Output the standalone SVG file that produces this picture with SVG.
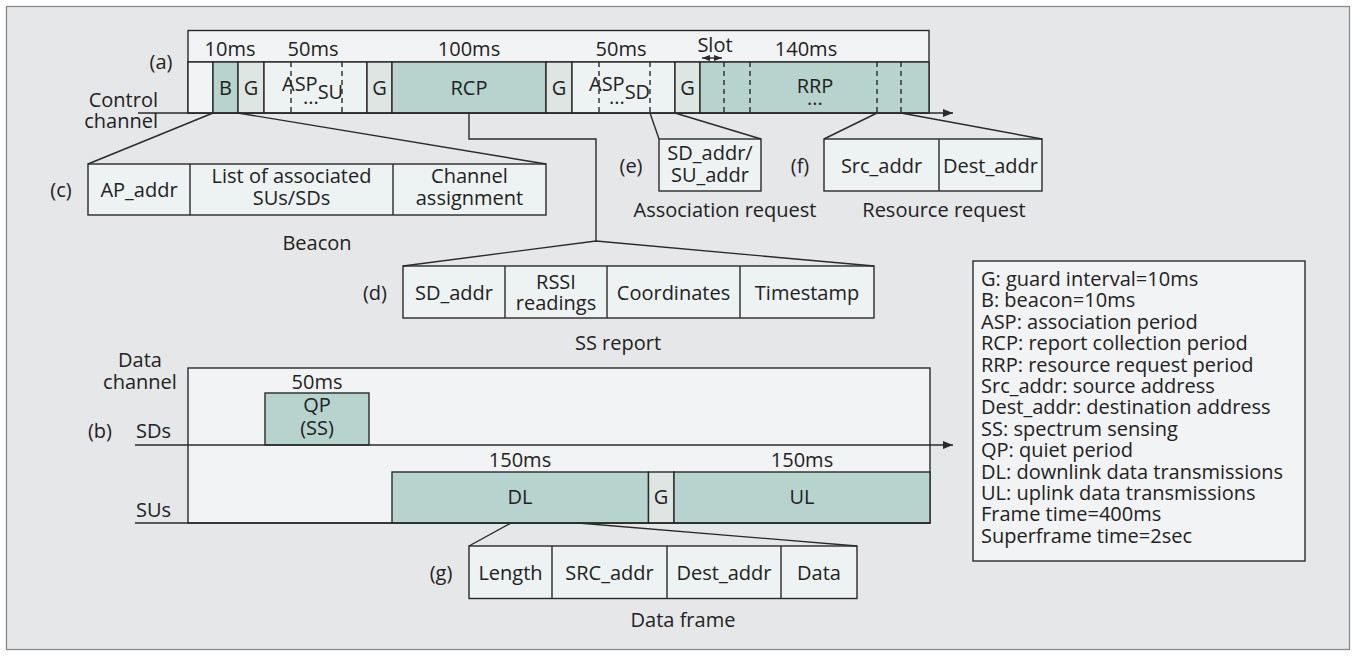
<svg xmlns="http://www.w3.org/2000/svg" width="1356" height="656" viewBox="0 0 1356 656">
<defs>
<style>
text{font-family:"Open Sans","Noto Sans","Liberation Sans",sans-serif;font-size:20px;fill:#222;}
.c{text-anchor:middle;}
.ln{stroke:#2a2a2a;stroke-width:1.4;fill:none;}
.box{stroke:#2a2a2a;stroke-width:1.4;}
.wh{fill:#f2f3f4;}
.tl{fill:#b6d3cd;}
.gd{fill:#dde6e3;}
.fd{fill:#edf3f3;}
.dash{stroke:#2a2a2a;stroke-width:1.4;stroke-dasharray:5 4;fill:none;}
</style>
<marker id="ah" viewBox="0 0 10 8" refX="10" refY="4" markerWidth="10" markerHeight="8" markerUnits="userSpaceOnUse" orient="auto-start-reverse">
<path d="M0,0 L10,4 L0,8 Z" fill="#2a2a2a"/>
</marker>
<marker id="sa" viewBox="0 0 8 6" refX="8" refY="3" markerWidth="8" markerHeight="6" markerUnits="userSpaceOnUse" orient="auto-start-reverse">
<path d="M0,0 L8,3 L0,6 Z" fill="#2a2a2a"/>
</marker>
</defs>
<rect x="6.5" y="6.5" width="1343" height="643" fill="#e6e7e8" stroke="#8a8a8a" stroke-width="1.3"/>

<g id="control-channel">
<text x="161" y="69" class="c">(a)</text>
<text x="158" y="107" text-anchor="end">Control</text>
<text x="158" y="128" text-anchor="end">channel</text>
<rect x="188" y="30.5" width="741" height="82.5" class="box wh"/>
<text x="230" y="56" class="c">10ms</text>
<text x="313" y="56" class="c">50ms</text>
<text x="469" y="56" class="c">100ms</text>
<text x="621" y="56" class="c">50ms</text>
<text x="715" y="52" class="c">Slot</text>
<text x="806" y="56" class="c">140ms</text>
<line x1="702" y1="58" x2="722" y2="58" class="ln" marker-start="url(#sa)" marker-end="url(#sa)"/>
<line x1="188" y1="62" x2="929" y2="62" class="ln"/>
</g>

<g id="cell-first"><rect x="188" y="62" width="25" height="51" class="box wh"/></g>
<g id="cell-B"><rect x="213" y="62" width="25" height="51" class="box tl"/><text x="225.5" y="95" class="c">B</text></g>
<g id="cell-G1"><rect x="238" y="62" width="26" height="51" class="box gd"/><text x="251" y="95" class="c">G</text></g>
<g id="cell-ASPSU"><rect x="264" y="62" width="103" height="51" class="box fd"/>
<line x1="291" y1="62" x2="291" y2="113" class="dash"/><line x1="342" y1="62" x2="342" y2="113" class="dash"/>
<text x="282" y="91">ASP<tspan dy="8">SU</tspan></text>
<text x="311" y="104" class="c">...</text></g>
<g id="cell-G2"><rect x="367" y="62" width="25" height="51" class="box gd"/><text x="379.5" y="95" class="c">G</text></g>
<g id="cell-RCP"><rect x="392" y="62" width="154" height="51" class="box tl"/><text x="469" y="95" class="c">RCP</text></g>
<g id="cell-G3"><rect x="546" y="62" width="26" height="51" class="box gd"/><text x="559" y="95" class="c">G</text></g>
<g id="cell-ASPSD"><rect x="572" y="62" width="103" height="51" class="box fd"/>
<line x1="599" y1="62" x2="599" y2="113" class="dash"/><line x1="650" y1="62" x2="650" y2="113" class="dash"/>
<text x="589" y="91">ASP<tspan dy="8">SD</tspan></text>
<text x="617" y="104" class="c">...</text></g>
<g id="cell-G4"><rect x="675" y="62" width="25" height="51" class="box gd"/><text x="687.5" y="95" class="c">G</text></g>
<g id="cell-RRP"><rect x="700" y="62" width="229" height="51" class="box tl"/>
<line x1="724" y1="62" x2="724" y2="113" class="dash"/><line x1="750" y1="62" x2="750" y2="113" class="dash"/>
<line x1="877" y1="62" x2="877" y2="113" class="dash"/><line x1="901" y1="62" x2="901" y2="113" class="dash"/>
<text x="815" y="93" class="c">RRP</text>
<text x="815" y="105" class="c">...</text></g>

<g id="beacon">
<text x="61" y="197" class="c">(c)</text>
<rect x="88" y="164" width="458" height="51" class="box fd"/>
<line x1="190" y1="164" x2="190" y2="215" class="ln"/><line x1="393" y1="164" x2="393" y2="215" class="ln"/>
<text x="139" y="197" class="c">AP_addr</text>
<text x="291.5" y="183" class="c">List of associated</text>
<text x="291.5" y="205" class="c">SUs/SDs</text>
<text x="469.5" y="183" class="c">Channel</text>
<text x="469.5" y="205" class="c">assignment</text>
<text x="317" y="250" class="c">Beacon</text>
</g>

<g id="association-request">
<text x="631" y="173" class="c">(e)</text>
<rect x="659" y="139" width="102" height="52" class="box fd"/>
<text x="710" y="160" class="c">SD_addr/</text>
<text x="710" y="182" class="c">SU_addr</text>
<text x="725" y="217" class="c">Association request</text>
</g>

<g id="resource-request">
<text x="800" y="173" class="c">(f)</text>
<rect x="824" y="139" width="218" height="52" class="box fd"/>
<line x1="939" y1="139" x2="939" y2="191" class="ln"/>
<text x="881.5" y="173" class="c">Src_addr</text>
<text x="990.5" y="173" class="c">Dest_addr</text>
<text x="944" y="217" class="c">Resource request</text>
</g>

<g id="ss-report">
<text x="375" y="300" class="c">(d)</text>
<rect x="403" y="266" width="471" height="52" class="box fd"/>
<line x1="505" y1="266" x2="505" y2="318" class="ln"/><line x1="607" y1="266" x2="607" y2="318" class="ln"/><line x1="740" y1="266" x2="740" y2="318" class="ln"/>
<text x="454" y="300" class="c">SD_addr</text>
<text x="556" y="289" class="c">RSSI</text>
<text x="556" y="310" class="c">readings</text>
<text x="673.5" y="300" class="c">Coordinates</text>
<text x="807" y="300" class="c">Timestamp</text>
<text x="618" y="350" class="c">SS report</text>
</g>

<g id="data-channel">
<text x="140" y="367" class="c">Data</text>
<text x="140" y="389" class="c">channel</text>
<text x="100" y="438" class="c">(b)</text>
<text x="136" y="438">SDs</text>
<text x="136" y="517">SUs</text>
<rect x="188" y="368" width="742" height="155" class="box wh"/>
</g>

<g id="QP"><text x="317" y="389" class="c">50ms</text>
<rect x="265" y="393" width="104" height="52" class="box tl"/>
<text x="317" y="412" class="c">QP</text><text x="317" y="435" class="c">(SS)</text></g>
<g id="DL"><text x="520" y="467" class="c">150ms</text>
<rect x="392" y="472" width="256.5" height="51" class="box tl"/><text x="520" y="504" class="c">DL</text></g>
<g id="G-data"><rect x="648.5" y="472" width="25.5" height="51" class="box gd"/><text x="661" y="504" class="c">G</text></g>
<g id="UL"><text x="802" y="467" class="c">150ms</text>
<rect x="674" y="472" width="256" height="51" class="box tl"/><text x="802" y="504" class="c">UL</text></g>

<g id="data-frame">
<text x="441" y="580" class="c">(g)</text>
<rect x="469" y="546" width="388" height="52.5" class="box fd"/>
<line x1="552" y1="546" x2="552" y2="598.5" class="ln"/><line x1="667" y1="546" x2="667" y2="598.5" class="ln"/><line x1="781" y1="546" x2="781" y2="598.5" class="ln"/>
<text x="510.5" y="580" class="c">Length</text>
<text x="609.5" y="580" class="c">SRC_addr</text>
<text x="724" y="580" class="c">Dest_addr</text>
<text x="819" y="580" class="c">Data</text>
<text x="683" y="627" class="c">Data frame</text>
</g>

<g id="legend">
<rect x="973" y="261" width="332" height="300" class="box wh"/>
<text x="981" y="286">G: guard interval=10ms</text>
<text x="981" y="307.4">B: beacon=10ms</text>
<text x="981" y="328.8">ASP: association period</text>
<text x="981" y="350.2">RCP: report collection period</text>
<text x="981" y="371.6">RRP: resource request period</text>
<text x="981" y="393">Src_addr: source address</text>
<text x="981" y="414.4">Dest_addr: destination address</text>
<text x="981" y="435.8">SS: spectrum sensing</text>
<text x="981" y="457.2">QP: quiet period</text>
<text x="981" y="478.6">DL: downlink data transmissions</text>
<text x="981" y="500">UL: uplink data transmissions</text>
<text x="981" y="521.4">Frame time=400ms</text>
<text x="981" y="542.8">Superframe time=2sec</text>
</g>

<g id="connectors">
<line x1="138" y1="113" x2="953" y2="113" class="ln" marker-end="url(#ah)"/>
<line x1="135" y1="445" x2="953" y2="445" class="ln" marker-end="url(#ah)"/>
<line x1="135" y1="523" x2="930" y2="523" class="ln"/>
<line x1="213" y1="113" x2="88" y2="164" class="ln"/>
<line x1="238" y1="113" x2="546" y2="164" class="ln"/>
<polyline points="469,113 469,139 596,139 596,241" class="ln"/>
<polyline points="403,266 596,241 874,266" class="ln"/>
<line x1="650" y1="113" x2="659" y2="139" class="ln"/>
<line x1="675" y1="113" x2="761" y2="139" class="ln"/>
<line x1="877" y1="113" x2="824" y2="139" class="ln"/>
<line x1="901" y1="113" x2="1042" y2="139" class="ln"/>
<line x1="511" y1="523" x2="469" y2="546" class="ln"/>
<line x1="578" y1="523" x2="857" y2="546" class="ln"/>
</g>
</svg>
